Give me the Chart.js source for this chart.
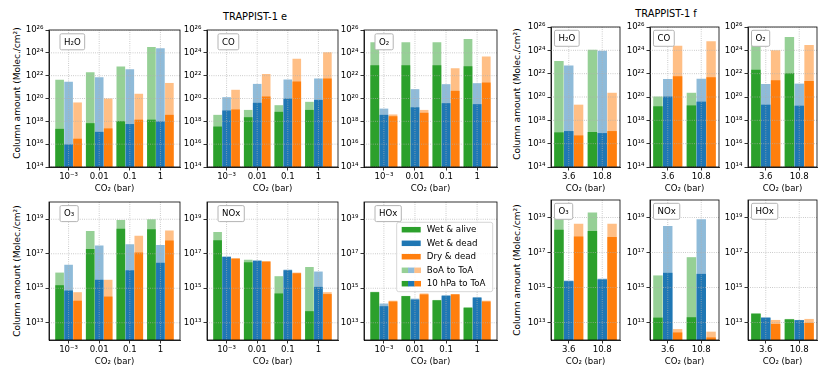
<!DOCTYPE html>
<html><head><meta charset="utf-8">
<script src="https://cdn.jsdelivr.net/npm/chart.js@4/dist/chart.umd.min.js"></script>
<style>
body{margin:0;background:#fff;}
#fig{position:relative;width:830px;height:377px;overflow:hidden;background:#fff;font-family:"DejaVu Sans",sans-serif;color:#000;}
#fig canvas{position:absolute;}
.t{position:absolute;white-space:nowrap;transform:translate(-50%,-50%);font-size:9.8px;}
.yl{position:absolute;white-space:nowrap;transform:translate(-50%,-50%) rotate(-90deg);font-size:9px;}
</style></head><body><div id="fig">
<div class="t" style="left:255px;top:16px">TRAPPIST-1 e</div>
<div class="t" style="left:666px;top:13px">TRAPPIST-1 f</div>
<div class="yl" style="left:17px;top:93px">Column amount (Molec./cm²)</div>
<div class="yl" style="left:17px;top:271px">Column amount (Molec./cm²)</div>
<div class="yl" style="left:517px;top:94px">Column amount (Molec./cm²)</div>
<div class="yl" style="left:517px;top:270px">Column amount (Molec./cm²)</div>
</div>
<script>
// ---------------- categories & ticks ----------------
const eCats = ['10⁻³', '0.01', '0.1', '1'];
const fCats = ['3.6', '10.8'];
const topTicks = [1e14, 1e16, 1e18, 1e20, 1e22, 1e24, 1e26];
const botTicks = [1e13, 1e15, 1e17, 1e19];
const seriesNames = ['Wet & alive', 'Wet & dead', 'Dry & dead'];
const layerNames = ['BoA to ToA', '10 hPa to ToA'];

// ---------------- TRAPPIST-1 e (boa = BoA to ToA, hpa = 10 hPa to ToA) ----------------
const e_H2O_alive_boa = [4.3e21, 2.0e22, 6.3e22, 3.2e24];
const e_H2O_alive_hpa = [2.2e17, 6.9e17, 1.05e18, 1.4e18];
const e_H2O_dead_boa  = [2.9e21, 7.2e21, 3.6e22, 2.5e24];
const e_H2O_dead_hpa  = [9.5e15, 1.2e17, 5.8e17, 9.8e17];
const e_H2O_dry_boa   = [4.5e19, 1.0e20, 2.6e20, 2.3e21];
const e_H2O_dry_hpa   = [3.0e16, 2.4e17, 1.4e18, 3.7e18];

const e_CO_alive_boa = [3.7e18, 1.0e19, 2.6e19, 5.1e19];
const e_CO_alive_hpa = [3.5e17, 2.3e18, 6.8e18, 1.0e19];
const e_CO_dead_boa  = [1.3e20, 1.9e21, 4.6e21, 5.6e21];
const e_CO_dead_hpa  = [8.9e18, 4.2e19, 1.0e20, 7.6e19];
const e_CO_dry_boa   = [5.8e20, 1.4e22, 3.0e23, 1.1e24];
const e_CO_dry_hpa   = [1.1e19, 1.5e20, 3.1e21, 5.6e21];

const e_O2_alive_boa = [8.3e24, 8.3e24, 8.3e24, 1.6e25];
const e_O2_alive_hpa = [8.1e22, 8.1e22, 8.1e22, 6.6e22];
const e_O2_dead_boa  = [1.3e19, 6.6e20, 1.8e21, 2.2e21];
const e_O2_dead_hpa  = [3.7e18, 1.7e19, 3.9e19, 3.2e19];
const e_O2_dry_boa   = [4.0e18, 1.0e19, 4.5e22, 4.7e23];
const e_O2_dry_hpa   = [2.8e18, 5.6e18, 4.7e20, 2.5e21];

const e_O3_alive_boa = [8.1e15, 2.1e18, 9.1e18, 1.0e19];
const e_O3_alive_hpa = [1.5e15, 1.9e17, 2.8e18, 2.6e18];
const e_O3_dead_boa  = [2.3e16, 3.0e17, 3.5e17, 3.2e17];
const e_O3_dead_hpa  = [7.4e14, 3.1e15, 1.1e16, 3.0e16];
const e_O3_dry_boa   = [5.9e14, 3.1e15, 1.1e18, 2.2e18];
const e_O3_dry_hpa   = [1.9e14, 3.3e14, 1.2e17, 5.9e17];

const e_NOx_alive_boa = [1.8e18, 4.5e16, 5.0e15, 1.7e16];
const e_NOx_alive_hpa = [6.0e17, 3.2e16, 5.0e14, 4.7e13];
const e_NOx_dead_boa  = [6.9e16, 4.1e16, 1.2e16, 9.3e15];
const e_NOx_dead_hpa  = [6.6e16, 3.9e16, 1.1e16, 1.2e15];
const e_NOx_dry_boa   = [5.5e16, 3.7e16, 8.1e15, 5.9e14];
const e_NOx_dry_hpa   = [5.2e16, 3.5e16, 7.4e15, 4.6e14];

const e_HOx_alive_boa = [6.2e14, 3.6e14, 2.1e14, 7.8e13];
const e_HOx_alive_hpa = [5.9e14, 3.5e14, 2.0e14, 7.4e13];
const e_HOx_dead_boa  = [1.3e14, 2.5e14, 4.0e14, 3.1e14];
const e_HOx_dead_hpa  = [9.1e13, 2.2e14, 3.6e14, 2.8e14];
const e_HOx_dry_boa   = [1.9e14, 5.0e14, 4.6e14, 1.9e14];
const e_HOx_dry_hpa   = [1.7e14, 4.4e14, 4.4e14, 1.7e14];

// ---------------- TRAPPIST-1 f ----------------
const f_H2O_alive_boa = [1.2e23, 1.1e24];
const f_H2O_alive_hpa = [9.3e16, 1.0e17];
const f_H2O_dead_boa  = [4.9e22, 9.3e23];
const f_H2O_dead_hpa  = [1.2e17, 8.1e16];
const f_H2O_dry_boa   = [2.2e19, 2.3e20];
const f_H2O_dry_hpa   = [5.1e16, 1.2e17];

const f_CO_alive_boa = [1.1e20, 2.3e20];
const f_CO_alive_hpa = [1.6e19, 1.9e19];
const f_CO_dead_boa  = [3.5e21, 3.7e21];
const f_CO_dead_hpa  = [1.1e20, 4.0e19];
const f_CO_dry_boa   = [2.5e24, 5.9e24];
const f_CO_dry_hpa   = [5.9e21, 4.9e21];

const f_O2_alive_boa = [6.3e24, 1.4e25];
const f_O2_alive_hpa = [2.2e22, 1.1e22];
const f_O2_dead_boa  = [1.3e21, 1.4e21];
const f_O2_dead_hpa  = [2.2e19, 1.8e19];
const f_O2_dry_boa   = [1.0e24, 2.9e24];
const f_O2_dry_hpa   = [2.7e21, 2.3e21];

const f_O3_alive_boa = [1.5e19, 1.9e19];
const f_O3_alive_hpa = [2.0e18, 1.7e18];
const f_O3_dead_boa  = [2.5e15, 3.2e15];
const f_O3_dead_hpa  = [2.3e15, 2.9e15];
const f_O3_dry_boa   = [4.4e18, 4.4e18];
const f_O3_dry_hpa   = [8.1e17, 7.6e17];

const f_NOx_alive_boa = [4.9e15, 5.4e16];
const f_NOx_alive_hpa = [1.9e13, 2.0e13];
const f_NOx_dead_boa  = [3.3e18, 7.9e18];
const f_NOx_dead_hpa  = [6.9e15, 6.0e15];
const f_NOx_dry_boa   = [4.2e12, 3.0e12];
const f_NOx_dry_hpa   = [2.7e12, 1.4e12];

const f_HOx_alive_boa = [3.3e13, 1.6e13];
const f_HOx_alive_hpa = [3.2e13, 1.5e13];
const f_HOx_dead_boa  = [1.9e13, 1.4e13];
const f_HOx_dead_hpa  = [1.9e13, 1.35e13];
const f_HOx_dry_boa   = [1.4e13, 1.6e13];
const f_HOx_dry_hpa   = [8.3e12, 9.5e12];

// ---------------- styling ----------------
const DARK  = ['#2ca02c', '#1f77b4', '#ff7f0e'];
const LIGHT = ['#96d096', '#8fbbd9', '#ffbf86'];
const FONT = '"DejaVu Sans", sans-serif';
const SUP = {'0':'⁰','1':'¹','2':'²','3':'³','4':'⁴','5':'⁵','6':'⁶','7':'⁷','8':'⁸','9':'⁹','-':'⁻'};
const sup = n => String(n).split('').map(c => SUP[c]).join('');

// panel layout: plot-area box [L,T,R,B] in page pixels
const panels = [
  {cats:eCats, ticks:topTicks, min:1e14, max:1e26, box:[49,30,180,167],  label:'H₂O', dx:11, dy:3.8,
   d:[e_H2O_alive_boa,e_H2O_alive_hpa,e_H2O_dead_boa,e_H2O_dead_hpa,e_H2O_dry_boa,e_H2O_dry_hpa]},
  {cats:eCats, ticks:topTicks, min:1e14, max:1e26, box:[207,30,338,167], label:'CO', dx:11, dy:3.8,
   d:[e_CO_alive_boa,e_CO_alive_hpa,e_CO_dead_boa,e_CO_dead_hpa,e_CO_dry_boa,e_CO_dry_hpa]},
  {cats:eCats, ticks:topTicks, min:1e14, max:1e26, box:[364,30,497,167], label:'O₂', dx:11, dy:3.8,
   d:[e_O2_alive_boa,e_O2_alive_hpa,e_O2_dead_boa,e_O2_dead_hpa,e_O2_dry_boa,e_O2_dry_hpa]},
  {cats:eCats, ticks:botTicks, min:1e12, max:1e20, box:[49,202,180,340], label:'O₃', dx:11, dy:3.6,
   d:[e_O3_alive_boa,e_O3_alive_hpa,e_O3_dead_boa,e_O3_dead_hpa,e_O3_dry_boa,e_O3_dry_hpa]},
  {cats:eCats, ticks:botTicks, min:1e12, max:1e20, box:[207,202,338,340], label:'NOx', dx:11, dy:3.6,
   d:[e_NOx_alive_boa,e_NOx_alive_hpa,e_NOx_dead_boa,e_NOx_dead_hpa,e_NOx_dry_boa,e_NOx_dry_hpa]},
  {cats:eCats, ticks:botTicks, min:1e12, max:1e20, box:[364,202,497,340], label:'HOx', dx:11, dy:3.6, legend:true,
   d:[e_HOx_alive_boa,e_HOx_alive_hpa,e_HOx_dead_boa,e_HOx_dead_hpa,e_HOx_dry_boa,e_HOx_dry_hpa]},
  {cats:fCats, ticks:topTicks, min:1e14, max:1e26, box:[551,27,620,167], label:'H₂O', dx:3.5, dy:3.3,
   d:[f_H2O_alive_boa,f_H2O_alive_hpa,f_H2O_dead_boa,f_H2O_dead_hpa,f_H2O_dry_boa,f_H2O_dry_hpa]},
  {cats:fCats, ticks:topTicks, min:1e14, max:1e26, box:[650,27,719,167], label:'CO', dx:3.5, dy:3.3,
   d:[f_CO_alive_boa,f_CO_alive_hpa,f_CO_dead_boa,f_CO_dead_hpa,f_CO_dry_boa,f_CO_dry_hpa]},
  {cats:fCats, ticks:topTicks, min:1e14, max:1e26, box:[748,27,817,167], label:'O₂', dx:3.5, dy:3.3,
   d:[f_O2_alive_boa,f_O2_alive_hpa,f_O2_dead_boa,f_O2_dead_hpa,f_O2_dry_boa,f_O2_dry_hpa]},
  {cats:fCats, ticks:botTicks, min:1e12, max:1e20, box:[551,200,620,340], label:'O₃', dx:3.5, dy:3.3,
   d:[f_O3_alive_boa,f_O3_alive_hpa,f_O3_dead_boa,f_O3_dead_hpa,f_O3_dry_boa,f_O3_dry_hpa]},
  {cats:fCats, ticks:botTicks, min:1e12, max:1e20, box:[650,200,719,340], label:'NOx', dx:3.5, dy:3.3,
   d:[f_NOx_alive_boa,f_NOx_alive_hpa,f_NOx_dead_boa,f_NOx_dead_hpa,f_NOx_dry_boa,f_NOx_dry_hpa]},
  {cats:fCats, ticks:botTicks, min:1e12, max:1e20, box:[748,200,817,340], label:'HOx', dx:3.5, dy:3.3,
   d:[f_HOx_alive_boa,f_HOx_alive_hpa,f_HOx_dead_boa,f_HOx_dead_hpa,f_HOx_dry_boa,f_HOx_dry_hpa]},
];

function roundRect(ctx, x, y, w, h, r) {
  ctx.beginPath();
  ctx.moveTo(x + r, y); ctx.lineTo(x + w - r, y); ctx.arcTo(x + w, y, x + w, y + r, r);
  ctx.lineTo(x + w, y + h - r); ctx.arcTo(x + w, y + h, x + w - r, y + h, r);
  ctx.lineTo(x + r, y + h); ctx.arcTo(x, y + h, x, y + h - r, r);
  ctx.lineTo(x, y + r); ctx.arcTo(x, y, x + r, y, r); ctx.closePath();
}

const overlay = {
  id: 'overlay',
  afterDatasetsDraw(chart, args, o) {
    const {ctx, chartArea: a, scales: {x, y}} = chart;
    // dotted grid over bars
    ctx.save();
    ctx.beginPath(); ctx.rect(a.left, a.top, a.right - a.left, a.bottom - a.top); ctx.clip();
    ctx.strokeStyle = '#b0b0b0'; ctx.lineWidth = 0.8; ctx.setLineDash([0.8, 1.4]);
    x.ticks.forEach(t => {
      const px = x.getPixelForValue(t.value);
      ctx.beginPath(); ctx.moveTo(px, a.top); ctx.lineTo(px, a.bottom); ctx.stroke();
    });
    y.ticks.forEach(t => {
      const py = y.getPixelForValue(t.value);
      ctx.beginPath(); ctx.moveTo(a.left, py); ctx.lineTo(a.right, py); ctx.stroke();
    });
    ctx.restore();
    // frame
    ctx.save();
    ctx.strokeStyle = '#000'; ctx.lineWidth = 0.8;
    ctx.strokeRect(a.left, a.top, a.right - a.left, a.bottom - a.top);
    ctx.restore();
    // species label box
    ctx.save();
    ctx.font = '8.6px ' + FONT;
    const tw = ctx.measureText(o.label).width;
    const bx = a.left + o.dx, by = a.top + o.dy, bw = tw + 8, bh = 16;
    roundRect(ctx, bx, by, bw, bh, 1.5);
    ctx.fillStyle = '#fff'; ctx.fill();
    ctx.strokeStyle = '#b4b4b4'; ctx.lineWidth = 1; ctx.stroke();
    ctx.fillStyle = '#000'; ctx.textBaseline = 'middle';
    ctx.fillText(o.label, bx + 4, by + bh / 2 + 0.5);
    ctx.restore();
    // legend
    if (o.legend) {
      ctx.save();
      const lx = a.left + 32.7, ly = a.top + 20.3;
      roundRect(ctx, lx, ly, 96, 69.4, 2);
      ctx.fillStyle = 'rgba(255,255,255,0.85)'; ctx.fill();
      ctx.strokeStyle = '#cccccc'; ctx.lineWidth = 0.8; ctx.stroke();
      const rows = [27.7, 41.3, 54.7, 68.3, 81.7];
      const px = a.left + 37.7, pw = 19, ph = 5.5;
      ctx.font = '8.7px ' + FONT; ctx.textBaseline = 'middle';
      const labels = seriesNames.concat(layerNames);
      labels.forEach((lab, i) => {
        const cy = a.top + rows[i];
        if (i < 3) {
          ctx.fillStyle = DARK[i]; ctx.fillRect(px, cy - ph / 2, pw, ph);
        } else {
          const cols = i === 3 ? LIGHT : DARK;
          cols.forEach((c, k) => { ctx.fillStyle = c; ctx.fillRect(px + k * pw / 3, cy - ph / 2, pw / 3 + 0.3, ph); });
        }
        ctx.fillStyle = '#000';
        ctx.fillText(lab, a.left + 62.7, cy + 0.5);
      });
      ctx.restore();
    }
  }
};

const fig = document.getElementById('fig');
panels.forEach(p => {
  const [L, T, R, B] = p.box;
  const cl = L - 48, ct = T - 8, cw = R - L + 48 + 8, ch = B - T + 8 + 30;
  const cv = document.createElement('canvas');
  cv.width = cw; cv.height = ch;
  cv.style.left = cl + 'px'; cv.style.top = ct + 'px';
  cv.style.width = cw + 'px'; cv.style.height = ch + 'px';
  fig.appendChild(cv);
  const n = p.cats.length;
  const stacks = ['g', 'b', 'o'];
  const datasets = [];
  // dark (10 hPa to ToA) first so they are drawn on top
  for (let s = 0; s < 3; s++) {
    datasets.push({label: seriesNames[s] + ' ' + layerNames[1], stack: stacks[s], backgroundColor: DARK[s],
      data: p.d[2 * s + 1].map((v, i) => ({x: i, y: v}))});
  }
  for (let s = 0; s < 3; s++) {
    datasets.push({label: seriesNames[s] + ' ' + layerNames[0], stack: stacks[s], backgroundColor: LIGHT[s],
      data: p.d[2 * s].map((v, i) => ({x: i, y: v}))});
  }
  const half = n === 4 ? 0.64 : 0.53;
  new Chart(cv, {
    type: 'bar',
    data: {datasets},
    options: {
      responsive: false, animation: false, devicePixelRatio: 1,
      layout: {padding: {left: 0, top: 8, right: 8, bottom: 0}},
      categoryPercentage: 0.88, barPercentage: 0.96,
      plugins: {legend: {display: false}, tooltip: {enabled: false},
        overlay: {label: p.label, dx: p.dx, dy: p.dy, legend: !!p.legend}},
      scales: {
        x: {
          type: 'linear', min: -half, max: n - 1 + half, stacked: true, offset: false,
          afterBuildTicks: s => { s.ticks = p.cats.map((c, i) => ({value: i})); },
          afterFit: s => { s.height = 30; },
          ticks: {callback: v => p.cats[v], font: {family: FONT, size: 8.6}, color: '#000', padding: 1.5, maxRotation: 0, autoSkip: false},
          grid: {drawOnChartArea: false, offset: false, tickLength: 3.5, tickColor: '#000', tickWidth: 0.8},
          border: {color: '#000', width: 0.8},
          title: {display: true, text: 'CO₂ (bar)', font: {family: FONT, size: 8.5}, color: '#000', padding: {top: 0, bottom: 3}}
        },
        y: {
          type: 'logarithmic', min: p.min, max: p.max, stacked: false,
          afterBuildTicks: s => { s.ticks = p.ticks.map(v => ({value: v})); },
          afterFit: s => { s.width = 48; },
          ticks: {callback: v => '10' + sup(Math.round(Math.log10(v))), font: {family: FONT, size: 8.6}, color: '#000', padding: 2, autoSkip: false},
          grid: {drawOnChartArea: false, tickLength: 3.5, tickColor: '#000', tickWidth: 0.8},
          border: {color: '#000', width: 0.8}
        }
      }
    },
    plugins: [overlay]
  });
});
</script>
</body></html>
